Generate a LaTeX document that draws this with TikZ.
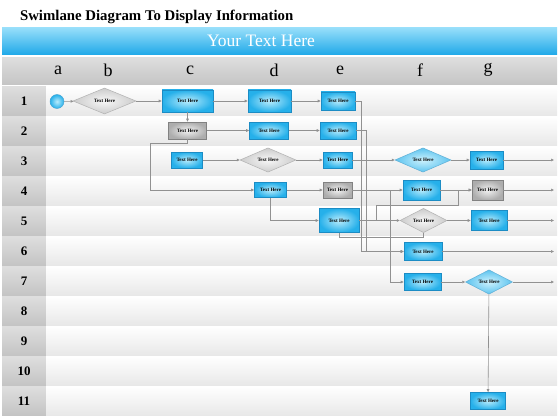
\documentclass[tikz,border=0pt]{standalone}
\usepackage{fontspec}
\setmainfont{Liberation Serif}
\usetikzlibrary{arrows.meta,shapes.geometric}
\definecolor{bannertop}{RGB}{150,222,250}
\definecolor{bannerbot}{RGB}{30,168,232}
\definecolor{headtop}{RGB}{222,222,222}
\definecolor{headbot}{RGB}{196,196,196}
\definecolor{boxblue}{RGB}{38,176,234}
\definecolor{boxlight}{RGB}{185,236,252}
\definecolor{boxedge}{RGB}{28,140,196}
\definecolor{grayedge}{RGB}{130,130,130}
\definecolor{linegray}{RGB}{145,145,145}
\tikzset{
	txt/.style={inner sep=0pt, font=\fontsize{5}{5}\selectfont\bfseries},
	bluebox/.style={txt, draw=boxedge, line width=0.6pt, inner color=boxlight, outer color=boxblue},
	graybox/.style={txt, draw=grayedge, line width=0.6pt, inner color=black!5, outer color=black!32},
	bluediamond/.style={txt, diamond, draw=boxedge!70, line width=0.5pt, inner color=boxlight!70, outer color=boxblue!75},
	graydiamond/.style={txt, diamond, draw=black!30, line width=0.5pt, inner color=black!3, outer color=black!20},
	flow/.style={draw=linegray, line width=0.6pt, -{Triangle[length=3pt,width=2.6pt]}},
	link/.style={draw=linegray, line width=0.6pt},
}

\begin{document}
\begin{tikzpicture}[x=1pt, y=-1pt]
			%%%%% START %%%%%
			\useasboundingbox (0, 0) rectangle (560, 420);
			
			\node[anchor=west, font=\fontsize{14.8}{15}\selectfont\bfseries] (title) at (16.5, 16.5) {Swimlane Diagram To Display Information};
			
			\shade[top color=bannertop, bottom color=bannerbot] (2, 28) rectangle (557, 55);
			\node[text=white, font=\fontsize{17.5}{18}\selectfont] (banner) at (261, 40.5) {Your Text Here};
			
			\shade[top color=headtop, bottom color=headbot] (2, 57.5) rectangle (557, 85);
			\node[font=\fontsize{18}{18}\selectfont] (la) at (58, 70) {a};
			\node[font=\fontsize{18}{18}\selectfont] (lb) at (108, 70) {b};
			\node[font=\fontsize{18}{18}\selectfont] (lc) at (190, 70) {c};
			\node[font=\fontsize{18}{18}\selectfont] (ld) at (274, 70) {d};
			\node[font=\fontsize{18}{18}\selectfont] (le) at (340, 70) {e};
			\node[font=\fontsize{18}{18}\selectfont] (lf) at (420, 70) {f};
			\node[font=\fontsize{18}{18}\selectfont] (lg) at (488, 70) {g};
			
			% lanes
			\shade[top color=headtop, bottom color=headbot] (2, 86.5) rectangle (46, 115);
			\shade[top color=headtop, bottom color=headbot] (2, 116.5) rectangle (46, 145);
			\shade[top color=headtop, bottom color=headbot] (2, 146.5) rectangle (46, 175);
			\shade[top color=headtop, bottom color=headbot] (2, 176.5) rectangle (46, 205);
			\shade[top color=headtop, bottom color=headbot] (2, 206.5) rectangle (46, 235);
			\shade[top color=headtop, bottom color=headbot] (2, 236.5) rectangle (46, 265);
			\shade[top color=headtop, bottom color=headbot] (2, 266.5) rectangle (46, 295);
			\shade[top color=headtop, bottom color=headbot] (2, 296.5) rectangle (46, 325);
			\shade[top color=headtop, bottom color=headbot] (2, 326.5) rectangle (46, 355);
			\shade[top color=headtop, bottom color=headbot] (2, 356.5) rectangle (46, 385);
			\shade[top color=headtop, bottom color=headbot] (2, 386.5) rectangle (46, 415);
			
			\shade[top color=white, bottom color=black!9] (46, 86.5) rectangle (557, 115);
			\shade[top color=white, bottom color=black!9] (46, 116.5) rectangle (557, 145);
			\shade[top color=white, bottom color=black!9] (46, 146.5) rectangle (557, 175);
			\shade[top color=white, bottom color=black!9] (46, 176.5) rectangle (557, 205);
			\shade[top color=white, bottom color=black!9] (46, 206.5) rectangle (557, 235);
			\shade[top color=white, bottom color=black!9] (46, 236.5) rectangle (557, 265);
			\shade[top color=white, bottom color=black!9] (46, 266.5) rectangle (557, 295);
			\shade[top color=white, bottom color=black!9] (46, 296.5) rectangle (557, 325);
			\shade[top color=white, bottom color=black!9] (46, 326.5) rectangle (557, 355);
			\shade[top color=white, bottom color=black!9] (46, 356.5) rectangle (557, 385);
			\shade[top color=white, bottom color=black!9] (46, 386.5) rectangle (557, 415);
			
			\node[font=\fontsize{13}{14}\selectfont\bfseries] (r1) at (24, 101) {1};
			\node[font=\fontsize{13}{14}\selectfont\bfseries] (r2) at (24, 131) {2};
			\node[font=\fontsize{13}{14}\selectfont\bfseries] (r3) at (24, 161) {3};
			\node[font=\fontsize{13}{14}\selectfont\bfseries] (r4) at (24, 191) {4};
			\node[font=\fontsize{13}{14}\selectfont\bfseries] (r5) at (24, 221) {5};
			\node[font=\fontsize{13}{14}\selectfont\bfseries] (r6) at (24, 251) {6};
			\node[font=\fontsize{13}{14}\selectfont\bfseries] (r7) at (24, 281) {7};
			\node[font=\fontsize{13}{14}\selectfont\bfseries] (r8) at (24, 311) {8};
			\node[font=\fontsize{13}{14}\selectfont\bfseries] (r9) at (24, 341) {9};
			\node[font=\fontsize{13}{14}\selectfont\bfseries] (r10) at (24, 371) {10};
			\node[font=\fontsize{13}{14}\selectfont\bfseries] (r11) at (24, 401) {11};
			
			% steps
			\node[circle, minimum size=14pt, inner sep=0pt, draw=boxedge!80, line width=0.4pt, inner color=boxlight, outer color=boxblue] (start) at (57, 101.5) {};
			\node[graydiamond, minimum width=63pt, minimum height=26pt] (b1) at (104.5, 101) {Text Here};
			\node[bluebox, minimum width=51pt, minimum height=22pt] (c1) at (187.5, 101) {Text Here};
			\node[bluebox, minimum width=43pt, minimum height=22pt] (d1) at (269.5, 101) {Text Here};
			\node[bluebox, minimum width=34pt, minimum height=18pt] (e1) at (338, 101) {Text Here};
			
			\node[graybox, minimum width=38pt, minimum height=17pt] (c2) at (187.5, 130.5) {Text Here};
			\node[bluebox, minimum width=39pt, minimum height=17pt] (d2) at (269, 130.5) {Text Here};
			\node[bluebox, minimum width=36pt, minimum height=17pt] (e2) at (338, 130.5) {Text Here};
			
			\node[bluebox, minimum width=31pt, minimum height=16pt] (c3) at (187, 160) {Text Here};
			\node[graydiamond, minimum width=56pt, minimum height=19pt] (d3) at (268, 160) {Text Here};
			\node[bluebox, minimum width=29pt, minimum height=16pt] (e3) at (337.5, 160) {Text Here};
			\node[bluediamond, minimum width=56pt, minimum height=19pt] (f3) at (423, 160) {Text Here};
			\node[bluebox, minimum width=33pt, minimum height=18pt] (g3) at (486.5, 160) {Text Here};
			
			\node[bluebox, minimum width=32pt, minimum height=15pt] (d4) at (270.5, 190) {Text Here};
			\node[graybox, minimum width=29pt, minimum height=16pt] (e4) at (337.5, 190) {Text Here};
			\node[bluebox, minimum width=37pt, minimum height=20pt] (f4) at (421.5, 190) {Text Here};
			\node[graybox, minimum width=31pt, minimum height=20pt] (g4) at (487.5, 190) {Text Here};
			
			\node[bluebox, minimum width=40pt, minimum height=24pt] (e5) at (339, 220.5) {Text Here};
			\node[graydiamond, minimum width=47pt, minimum height=22pt] (f5) at (423.5, 220.5) {Text Here};
			\node[bluebox, minimum width=36pt, minimum height=20pt] (g5) at (489, 220.5) {Text Here};
			
			\node[bluebox, minimum width=38pt, minimum height=18pt] (f6) at (423, 251.5) {Text Here};
			
			\node[bluebox, minimum width=37pt, minimum height=17pt] (f7) at (422.5, 282) {Text Here};
			\node[bluediamond, minimum width=47pt, minimum height=21pt] (g7) at (489, 282) {Text Here};
			
			\node[bluebox, minimum width=35pt, minimum height=17pt] (g11) at (488, 401) {Text Here};
			
			\coordinate (out3) at (554, 160);
			\coordinate (out4) at (554, 190);
			\coordinate (out5) at (554, 220.5);
			\coordinate (out6) at (554, 251.5);
			\coordinate (out7) at (554, 282);
			\coordinate (split4) at (390, 190);
			\coordinate (split5) at (376, 220.5);
			
			% connectors
			\draw[flow] (start) -- (b1);
			\draw[flow] (b1) -- (c1);
			\draw[flow] (c1) -- (d1);
			\draw[flow] (d1) -- (e1);
			\draw[flow] (c1) -- (c2);
			\draw[flow] (e1.east) -| ([xshift=-42pt]f6.west) -- (f6.west);
			
			\draw[flow] (c2) -- (d2);
			\draw[flow] (d2) -- (e2);
			\draw[flow] (e2.east) -| ([xshift=-37pt]f6.west) -- (f6.west);
			\draw[flow] (c2.south) |- (150, 143) |- (d4.west);
			
			\draw[flow] (c3) -- (d3);
			\draw[flow] (d3) -- (e3);
			\draw[flow] (e3) -- (f3);
			\draw[flow] (f3) -- (g3);
			\draw[flow] (g3) -- (out3);
			
			\draw[flow] (d4) -- (e4);
			\draw[flow] (d4.south) |- (e5.west);
			\draw[flow] (e4) -- (f4);
			\draw[flow] (f4) -- (g4);
			\draw[flow] (g4) -- (out4);
			\draw[flow] (split4) |- (f7.west);
			
			\draw[flow] (e5) -- (f5);
			\draw[flow] (split5) |- (458, 205) |- (g4.west);
			\draw[link] (e5.south) -- ++(0, 4.5) -| (f5.south);
			\draw[flow] (f5) -- (g5);
			\draw[flow] (g5) -- (out5);
			
			\draw[flow] (f6) -- (out6);
			
			\draw[flow] (f7) -- (g7);
			\draw[flow] (g7) -- (out7);
			\draw[flow] (g7) -- (g11);
			
			%%%%% END %%%%%
\end{tikzpicture}
\end{document}
